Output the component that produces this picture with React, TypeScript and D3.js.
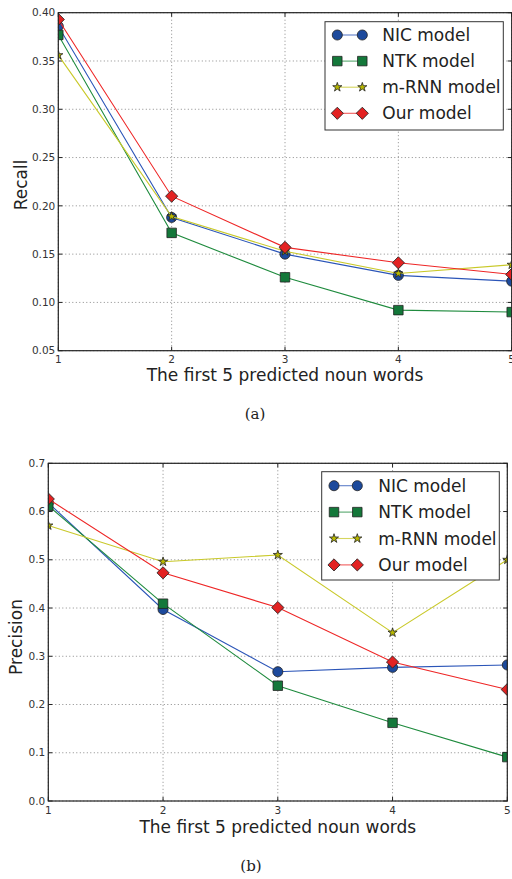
import React, { useEffect, useRef } from 'react';
import * as d3 from 'd3';

// x positions: number of predicted noun words
const steps = [1, 2, 3, 4, 5];
const seriesNames = ['NIC model', 'NTK model', 'm-RNN model', 'Our model'];

// (a) recall
const recallNIC = [0.386, 0.188, 0.150, 0.128, 0.122];
const recallNTK = [0.377, 0.172, 0.126, 0.092, 0.090];
const recallMRNN = [0.356, 0.189, 0.153, 0.130, 0.139];
const recallOurs = [0.393, 0.210, 0.157, 0.141, 0.129];
const recallTicks = [0.05, 0.10, 0.15, 0.20, 0.25, 0.30, 0.35, 0.40];

// (b) precision
const precisionNIC = [0.618, 0.397, 0.268, 0.277, 0.282];
const precisionNTK = [0.612, 0.409, 0.239, 0.162, 0.091];
const precisionMRNN = [0.571, 0.496, 0.510, 0.349, 0.500];
const precisionOurs = [0.626, 0.473, 0.401, 0.288, 0.231];
const precisionTicks = [0.0, 0.1, 0.2, 0.3, 0.4, 0.5, 0.6, 0.7];

const lineColors = ['#2b55b8', '#1f8b3e', '#c9c92a', '#ee2626'];
const markerColors = ['#1d4a9c', '#14783a', '#b8b800', '#e32222'];
const markerShapes = ['circle', 'square', 'star', 'diamond'];

const FONT = '"DejaVu Sans", sans-serif';

const markerPath = (shape) => {
  if (shape === 'circle') return d3.symbol(d3.symbolCircle).size(80)();
  if (shape === 'square') return d3.symbol(d3.symbolSquare).size(90)();
  if (shape === 'star') return d3.symbol(d3.symbolStar).size(26)();
  return d3.symbol(d3.symbolSquare).size(74)();
};

const drawMarker = (g, shape, i, x, y) => {
  g.append('path')
    .attr('d', markerPath(shape))
    .attr('transform', 'translate(' + x + ',' + y + ')' + (shape === 'diamond' ? ' rotate(45)' : ''))
    .attr('fill', markerColors[i])
    .attr('stroke', '#222')
    .attr('stroke-width', 0.8);
};

const drawPanel = (svg, p) => {
  const x = d3.scaleLinear().domain([1, 5]).range([p.left, p.right]);
  const y = d3.scaleLinear().domain(p.yDomain).range([p.bottom, p.top]);
  const g = svg.append('g');

  // grid
  g.selectAll('.gx').data(steps).enter().append('line')
    .attr('x1', d => x(d)).attr('x2', d => x(d))
    .attr('y1', p.top).attr('y2', p.bottom)
    .attr('stroke', '#8a8a8a').attr('stroke-width', 1).attr('stroke-dasharray', '1,2.5');
  g.selectAll('.gy').data(p.ticks).enter().append('line')
    .attr('x1', p.left).attr('x2', p.right)
    .attr('y1', d => y(d)).attr('y2', d => y(d))
    .attr('stroke', '#8a8a8a').attr('stroke-width', 1).attr('stroke-dasharray', '1,2.5');

  // ticks (inside, all four sides)
  g.selectAll('.tl').data(p.ticks).enter().append('path')
    .attr('d', d => 'M' + p.left + ',' + y(d) + 'h4M' + p.right + ',' + y(d) + 'h-4')
    .attr('stroke', '#222').attr('stroke-width', 1);
  g.selectAll('.tb').data(steps).enter().append('path')
    .attr('d', d => 'M' + x(d) + ',' + p.bottom + 'v-4M' + x(d) + ',' + p.top + 'v4')
    .attr('stroke', '#222').attr('stroke-width', 1);

  // tick labels
  g.selectAll('.yl').data(p.ticks).enter().append('text')
    .attr('x', p.left - 3).attr('y', d => y(d)).attr('dy', '0.35em')
    .attr('text-anchor', 'end').attr('font-family', FONT).attr('font-size', 10.5).attr('fill', '#333')
    .text(d => d3.format(p.fmt)(d));
  g.selectAll('.xl').data(steps).enter().append('text')
    .attr('x', d => x(d)).attr('y', p.bottom + p.xTickGap)
    .attr('text-anchor', 'middle').attr('font-family', FONT).attr('font-size', 10.5).attr('fill', '#333')
    .text(d => d);

  // series, clipped to the axes
  const clipId = 'clip-' + p.id;
  svg.append('clipPath').attr('id', clipId).append('rect')
    .attr('x', p.left).attr('y', p.top).attr('width', p.right - p.left).attr('height', p.bottom - p.top);
  const plot = g.append('g').attr('clip-path', 'url(#' + clipId + ')');
  const line = d3.line().x((d, i) => x(steps[i])).y(d => y(d));
  p.series.forEach((vals, i) => {
    plot.append('path').attr('d', line(vals)).attr('fill', 'none')
      .attr('stroke', lineColors[i]).attr('stroke-width', 1.1);
    vals.forEach((v, j) => drawMarker(plot, markerShapes[i], i, x(steps[j]), y(v)));
  });

  // frame
  g.append('rect')
    .attr('x', p.left).attr('y', p.top).attr('width', p.right - p.left).attr('height', p.bottom - p.top)
    .attr('fill', 'none').attr('stroke', '#222').attr('stroke-width', 1.2);

  // axis titles
  g.append('text')
    .attr('x', (p.left + p.right) / 2).attr('y', p.xTitleY)
    .attr('text-anchor', 'middle').attr('font-family', FONT).attr('font-size', 17).attr('fill', '#222')
    .text('The first 5 predicted noun words');
  g.append('text')
    .attr('transform', 'translate(' + p.yTitleX + ',' + p.yTitleY + ') rotate(-90)')
    .attr('text-anchor', 'middle').attr('font-family', FONT).attr('font-size', 17).attr('fill', '#222')
    .text(p.yTitle);

  // legend
  const lg = g.append('g');
  lg.append('rect')
    .attr('x', p.legX).attr('y', p.legY).attr('width', p.legW).attr('height', p.legH)
    .attr('fill', '#fff').attr('stroke', '#333').attr('stroke-width', 1);
  seriesNames.forEach((name, i) => {
    const ry = p.legRow0 + i * p.legStep;
    lg.append('line')
      .attr('x1', p.legM1).attr('x2', p.legM2).attr('y1', ry).attr('y2', ry)
      .attr('stroke', lineColors[i]).attr('stroke-width', 1.1).attr('opacity', 0.75);
    drawMarker(lg, markerShapes[i], i, p.legM1, ry);
    drawMarker(lg, markerShapes[i], i, p.legM2, ry);
    lg.append('text')
      .attr('x', p.legT).attr('y', ry).attr('dy', '0.36em')
      .attr('font-family', FONT).attr('font-size', 17).attr('fill', '#222')
      .text(name);
  });

  // caption
  g.append('text')
    .attr('x', p.capX).attr('y', p.capY)
    .attr('text-anchor', 'middle').attr('font-family', '"DejaVu Serif", "Liberation Serif", serif')
    .attr('font-size', 15).attr('fill', '#222')
    .text(p.caption);
};

const draw = (el) => {
  const svg = d3.select(el);
  svg.selectAll('*').remove();

  drawPanel(svg, {
    id: 'a', left: 58.3, right: 511.7, top: 12.7, bottom: 350.7,
    yDomain: [0.05, 0.40], ticks: recallTicks, fmt: '.2f', xTickGap: 12,
    series: [recallNIC, recallNTK, recallMRNN, recallOurs],
    xTitleY: 381, yTitle: 'Recall', yTitleX: 27, yTitleY: 185,
    legX: 325, legY: 21.7, legW: 178.3, legH: 108.3,
    legRow0: 35, legStep: 26.1, legM1: 337.3, legM2: 362.3, legT: 382.3,
    caption: '(a)', capX: 255, capY: 419,
  });

  drawPanel(svg, {
    id: 'b', left: 48.3, right: 507.3, top: 463.3, bottom: 801,
    yDomain: [0, 0.7], ticks: precisionTicks, fmt: '.1f', xTickGap: 13,
    series: [precisionNIC, precisionNTK, precisionMRNN, precisionOurs],
    xTitleY: 833, yTitle: 'Precision', yTitleX: 22, yTitleY: 637,
    legX: 321.7, legY: 471.7, legW: 177.6, legH: 108.3,
    legRow0: 485.7, legStep: 26.4, legM1: 334, legM2: 357.3, legT: 378.3,
    caption: '(b)', capX: 251, capY: 871,
  });
};

const App = () => {
  const ref = useRef(null);

  useEffect(() => {
    draw(ref.current);
  }, []);

  return (
    <svg
      ref={ref}
      width={512}
      height={879}
      style={{ position: 'absolute', left: 0, top: 0, background: '#fff' }}
    />
  );
};

export default App;
